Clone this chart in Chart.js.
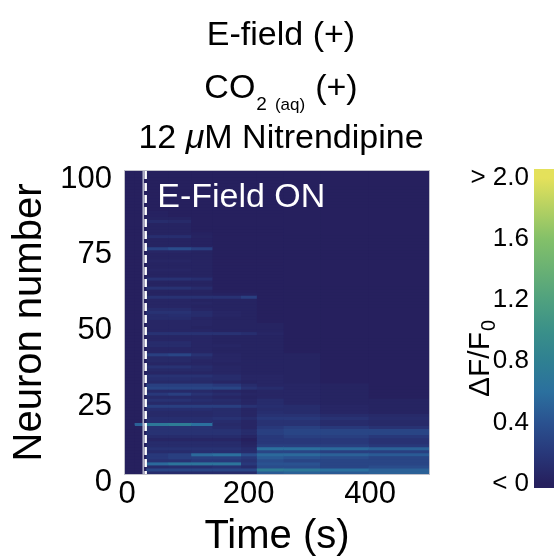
<!DOCTYPE html>
<html>
<head>
<meta charset="utf-8">
<title>E-field heatmap</title>
<script src="https://cdn.jsdelivr.net/npm/chart.js@4.4.0/dist/chart.umd.min.js"></script>
<style>
  html, body { margin: 0; padding: 0; background: #fff; }
  #wrap { position: relative; width: 554px; height: 559px; overflow: hidden; }
  #heatmap { position: absolute; left: 0; top: 0; }
  #colorbar { position: absolute; left: 440px; top: 0; }
</style>
</head>
<body>
<div id="wrap">
  <canvas id="heatmap" width="554" height="559"></canvas>
  <canvas id="colorbar" width="114" height="559"></canvas>
</div>
<script>
// time bin edges (s) and axis ticks
const timeEdges = [0, 15, 34, 70, 108, 143, 190, 216, 260, 320, 400, 500];
const fieldOnTime = 34;
const frameEdgeTime = 30;
const timeTicks = [0, 200, 400];
const neuronTicks = [0, 25, 50, 75, 100];
const neuronIds = Array.from({ length: 100 }, (_, i) => i + 1);

// colorbar
const cbRange = [-0.03, 2.06];
const cbTicks = [0, 0.4, 0.8, 1.2, 1.6, 2.0];
const cbLabels = ['< 0', '0.4', '0.8', '1.2', '1.6', '> 2.0'];

// dF/F0 per neuron (index 0 = neuron 1, bottom row), one array per time bin
const dff_0_15 = [
  0,0,0,0,0,0,0,0,0,0,
  0,0,0,0,0,0,0,0,0,0,
  0,0,0,0,0,0,0,0,0,0,
  0,0,0,0,0,0,0,0,0,0,
  0,0,0,0,0,0,0,0,0,0,
  0,0,0,0,0,0,0,0,0,0,
  0,0,0,0,0,0,0,0,0,0,
  0,0,0,0,0,0,0,0,0,0,
  0,0,0,0,0,0,0,0,0,0,
  0,0,0,0,0,0,0,0,0,0];
const dff_15_34 = [
  0,0,0,0,0,0,0,0,0,0,
  0,0,0,0,0,0,0.5,0,0,0,
  0,0,0,0,0,0,0,0,0,0,
  0,0,0,0,0,0,0,0,0,0,
  0,0,0,0,0,0,0,0,0,0,
  0,0,0,0,0,0,0,0,0,0,
  0,0,0,0,0,0,0,0,0,0,
  0,0,0,0,0,0,0,0,0,0,
  0,0,0,0,0,0,0,0,0,0,
  0,0,0,0,0,0,0,0,0,0];
const dff_34_70 = [
  0.1,0.3,0.1,0.55,0.15,0.2,0.2,0.1,0.15,0.1,
  0.1,0.05,0.1,0.15,0.15,0.15,0.7,0.12,0.12,0.08,
  0.08,0.12,0.25,0.08,0.15,0.08,0.2,0.08,0.3,0.25,
  0.08,0.12,0.15,0.05,0.08,0.15,0.05,0.08,0.08,0.25,
  0.05,0.05,0.1,0.1,0.05,0.05,0.15,0.05,0.05,0.05,
  0.05,0.1,0.1,0.15,0.1,0.05,0.05,0.05,0.15,0.03,
  0.03,0.15,0.03,0.03,0.15,0.03,0.03,0.05,0.03,0.03,
  0.05,0.03,0.03,0.05,0.28,0.03,0.03,0.03,0.12,0.03,
  0.03,0.03,0.03,0.1,0.03,0.02,0.02,0,0,0,
  0,0,0,0,0,0,0,0,0,0];
const dff_70_108 = [
  0.1,0.3,0.12,0.65,0.15,0.25,0.25,0.1,0.15,0.1,
  0.1,0.05,0.1,0.15,0.15,0.15,0.75,0.12,0.12,0.08,
  0.08,0.12,0.25,0.08,0.15,0.08,0.25,0.08,0.3,0.25,
  0.08,0.12,0.15,0.05,0.08,0.15,0.05,0.08,0.08,0.3,
  0.05,0.05,0.1,0.1,0.05,0.05,0.15,0.05,0.05,0.05,
  0.05,0.1,0.12,0.15,0.1,0.05,0.05,0.05,0.15,0.03,
  0.03,0.15,0.03,0.03,0.15,0.03,0.03,0.05,0.03,0.03,
  0.05,0.03,0.03,0.05,0.35,0.03,0.03,0.03,0.12,0.03,
  0.03,0.03,0.03,0.08,0.03,0,0,0,0,0,
  0,0,0,0,0,0,0,0,0,0];
const dff_108_143 = [
  0.1,0.3,0.12,0.65,0.2,0.25,0.55,0.12,0.15,0.1,
  0.1,0.05,0.1,0.15,0.15,0.15,0.6,0.12,0.12,0.08,
  0.08,0.12,0.25,0.08,0.12,0.08,0.15,0.08,0.3,0.25,
  0.08,0.1,0.15,0.05,0.08,0.1,0.05,0.05,0.08,0.15,
  0.05,0.05,0.05,0.05,0.05,0.05,0.15,0.05,0.03,0.05,
  0.05,0.05,0.1,0.1,0.05,0.03,0.05,0.03,0.15,0.03,
  0.03,0.1,0.03,0.03,0.12,0.03,0.03,0.03,0.03,0.03,
  0.03,0.03,0.03,0.03,0.25,0.02,0.02,0.02,0.03,0.02,
  0,0,0,0,0,0,0,0,0,0,
  0,0,0,0,0,0,0,0,0,0];
const dff_143_190 = [
  0.1,0.3,0.15,0.65,0.2,0.25,0.6,0.12,0.15,0.1,
  0.1,0.05,0.1,0.15,0.15,0.1,0.08,0.1,0.15,0.1,
  0.1,0.1,0.25,0.08,0.1,0.05,0.1,0.05,0.3,0.2,
  0.05,0.1,0.1,0.05,0.05,0.05,0.03,0.05,0.05,0.05,
  0.03,0.03,0.05,0.03,0.03,0.03,0.15,0.03,0.03,0.03,
  0.03,0.03,0.05,0.05,0.03,0.03,0.03,0.03,0.15,0.02,
  0,0,0,0,0,0,0,0,0,0,
  0,0,0,0,0,0,0,0,0,0,
  0,0,0,0,0,0,0,0,0,0,
  0,0,0,0,0,0,0,0,0,0];
const dff_190_216 = [
  0.1,0.3,0.1,0.2,0.15,0.2,0.35,0.1,0.1,0.05,
  0.03,0,0.05,0.1,0.1,0.05,0.05,0.05,0.1,0.05,
  0.05,0.05,0.15,0.05,0.05,0.03,0.05,0.03,0.15,0.1,
  0.03,0.05,0.05,0.03,0.03,0.03,0.03,0.03,0.03,0.03,
  0.03,0.03,0.03,0.03,0.03,0.03,0.12,0.03,0.03,0.03,
  0.03,0.03,0.03,0.03,0.03,0.03,0.03,0.03,0.25,0.02,
  0,0,0,0,0,0,0,0,0,0,
  0,0,0,0,0,0,0,0,0,0,
  0,0,0,0,0,0,0,0,0,0,
  0,0,0,0,0,0,0,0,0,0];
const dff_216_260 = [
  0.45,0.75,0.35,0.4,0.35,0.45,0.55,0.3,0.6,0.25,
  0.2,0.2,0.2,0.25,0.25,0.2,0.15,0.15,0.2,0.15,
  0.12,0.1,0.12,0.1,0.1,0.05,0.05,0.05,0.1,0.05,
  0.05,0.05,0.05,0.03,0.03,0.03,0.03,0.03,0.03,0.03,
  0.03,0.03,0.03,0.03,0.03,0.03,0.05,0.03,0.03,0.03,
  0,0,0,0,0,0,0,0,0,0,
  0,0,0,0,0,0,0,0,0,0,
  0,0,0,0,0,0,0,0,0,0,
  0,0,0,0,0,0,0,0,0,0,
  0,0,0,0,0,0,0,0,0,0];
const dff_260_320 = [
  0.5,0.7,0.35,0.4,0.3,0.4,0.55,0.3,0.6,0.25,
  0.2,0.2,0.25,0.3,0.3,0.25,0.15,0.15,0.2,0.15,
  0.1,0.1,0.1,0.05,0.05,0.05,0.05,0.05,0.05,0.05,
  0.03,0.03,0.03,0.03,0.03,0.03,0.03,0.03,0.03,0.03,
  0,0,0,0,0,0,0,0,0,0,
  0,0,0,0,0,0,0,0,0,0,
  0,0,0,0,0,0,0,0,0,0,
  0,0,0,0,0,0,0,0,0,0,
  0,0,0,0,0,0,0,0,0,0,
  0,0,0,0,0,0,0,0,0,0];
const dff_320_400 = [
  0.45,0.6,0.3,0.3,0.3,0.35,0.5,0.25,0.55,0.25,
  0.2,0.2,0.25,0.3,0.3,0.2,0.1,0.1,0.15,0.1,
  0.05,0.05,0.05,0.03,0.03,0.03,0.03,0.03,0.03,0.03,
  0,0,0,0,0,0,0,0,0,0,
  0,0,0,0,0,0,0,0,0,0,
  0,0,0,0,0,0,0,0,0,0,
  0,0,0,0,0,0,0,0,0,0,
  0,0,0,0,0,0,0,0,0,0,
  0,0,0,0,0,0,0,0,0,0,
  0,0,0,0,0,0,0,0,0,0];
const dff_400_500 = [
  0.5,0.5,0.35,0.3,0.3,0.3,0.45,0.25,0.5,0.2,
  0.15,0.15,0.2,0.3,0.3,0.15,0.08,0.08,0.1,0.08,
  0.03,0.03,0.03,0.03,0.03,0,0,0,0,0,
  0,0,0,0,0,0,0,0,0,0,
  0,0,0,0,0,0,0,0,0,0,
  0,0,0,0,0,0,0,0,0,0,
  0,0,0,0,0,0,0,0,0,0,
  0,0,0,0,0,0,0,0,0,0,
  0,0,0,0,0,0,0,0,0,0,
  0,0,0,0,0,0,0,0,0,0];

const binSeries = [dff_0_15, dff_15_34, dff_34_70, dff_70_108, dff_108_143, dff_143_190,
  dff_190_216, dff_216_260, dff_260_320, dff_320_400, dff_400_500];

// colormap stops (value, rgb)
const cmapStops = [
  [0.0, [38, 32, 94]],
  [0.2, [40, 56, 122]],
  [0.4, [42, 82, 144]],
  [0.6, [43, 112, 158]],
  [0.8, [47, 128, 146]],
  [1.0, [58, 144, 137]],
  [1.2, [79, 161, 127]],
  [1.6, [131, 192, 105]],
  [2.0, [228, 225, 91]]
];

function colorFor(v) {
  v = Math.max(0, Math.min(2, v || 0));
  for (let i = 1; i < cmapStops.length; i++) {
    const [v1, c1] = cmapStops[i];
    const [v0, c0] = cmapStops[i - 1];
    if (v <= v1) {
      const f = (v - v0) / (v1 - v0);
      const c = c0.map((a, k) => Math.round(a + (c1[k] - a) * f));
      return `rgb(${c[0]},${c[1]},${c[2]})`;
    }
  }
  return 'rgb(228,225,91)';
}

Chart.defaults.font.family = "'Liberation Sans', Arial, Helvetica, sans-serif";
Chart.defaults.color = '#000';

// title lines, second one with subscripts
const titleParts = [
  [{ t: 'E-field (+)' }],
  [{ t: 'CO' }, { t: '2', size: 19, dy: 12, gap: 1 }, { t: '(aq)', size: 17, dy: 12, gap: 8 }, { t: '(+)', gap: 10 }],
  [{ t: '12 ' }, { t: 'μ', italic: true }, { t: 'M Nitrendipine' }]
];
const titleBaselines = [45, 98, 148];

const titlePlugin = {
  id: 'titleLines',
  afterDraw(chart) {
    const ctx = chart.ctx;
    const fam = Chart.defaults.font.family;
    const font = p => `${p.italic ? 'italic ' : ''}${p.size || 34}px ${fam}`;
    ctx.save();
    ctx.fillStyle = '#000';
    ctx.textBaseline = 'alphabetic';
    ctx.textAlign = 'left';
    titleParts.forEach((parts, li) => {
      let total = 0;
      parts.forEach(p => { ctx.font = font(p); total += (p.gap || 0) + ctx.measureText(p.t).width; });
      let x = 281 - total / 2;
      parts.forEach(p => {
        ctx.font = font(p);
        x += p.gap || 0;
        ctx.fillText(p.t, x, titleBaselines[li] + (p.dy || 0));
        x += ctx.measureText(p.t).width;
      });
    });
    ctx.restore();
  }
};

const annotation = { text: 'E-Field ON', t: 53, n: 88 };

const overlayPlugin = {
  id: 'overlay',
  afterDatasetsDraw(chart) {
    const { ctx, chartArea: a, scales } = chart;
    ctx.save();
    ctx.strokeStyle = '#c0c0ca';
    ctx.lineWidth = 1;
    ctx.strokeRect(a.left - 0.5, a.top - 0.5, a.right - a.left + 1, a.bottom - a.top + 1);
    ctx.fillStyle = '#fff';
    ctx.font = `34px ${Chart.defaults.font.family}`;
    ctx.textBaseline = 'alphabetic';
    ctx.fillText(annotation.text, scales.x.getPixelForValue(annotation.t), scales.y.getPixelForValue(annotation.n));
    ctx.restore();
  }
};

const heatDatasets = binSeries.map((vals, b) => ({
  type: 'bar',
  data: vals.map((v, i) => ({ y: neuronIds[i] - 0.5, x: [timeEdges[b], timeEdges[b + 1]] })),
  backgroundColor: vals.map(colorFor),
  borderWidth: 0,
  grouped: false,
  barPercentage: 1,
  categoryPercentage: 1,
  inflateAmount: 0.5
}));

const lineDatasets = [
  {
    type: 'line',
    data: [{ x: frameEdgeTime, y: 100 }, { x: frameEdgeTime, y: 0 }],
    borderColor: 'rgba(185,185,205,0.8)',
    borderWidth: 1,
    pointRadius: 0,
    order: -1
  },
  {
    type: 'line',
    data: [{ x: fieldOnTime, y: 100 }, { x: fieldOnTime, y: 0 }],
    borderColor: '#fff',
    borderWidth: 2.5,
    borderDash: [8, 4],
    pointRadius: 0,
    order: -2
  }
];

new Chart(document.getElementById('heatmap'), {
  type: 'bar',
  data: { datasets: heatDatasets.concat(lineDatasets) },
  options: {
    indexAxis: 'y',
    responsive: false,
    animation: false,
    events: [],
    layout: { padding: { top: 171, right: 125, left: 0, bottom: 0 } },
    scales: {
      x: {
        type: 'linear', min: 0, max: 500, offset: false,
        afterBuildTicks: s => { s.ticks = timeTicks.map(v => ({ value: v })); },
        afterFit: s => { s.height = 85; },
        ticks: { font: { size: 31 }, color: '#000', padding: 2, labelOffset: 2, maxRotation: 0, autoSkip: false },
        grid: { display: false, drawTicks: false, offset: false },
        border: { display: false },
        title: { display: true, text: 'Time (s)', color: '#000', font: { size: 40, lineHeight: 1.1 }, padding: 0 }
      },
      y: {
        type: 'linear', min: 0, max: 100, offset: false,
        afterBuildTicks: s => { s.ticks = neuronTicks.map(v => ({ value: v })); },
        afterFit: s => { s.width = 125; },
        ticks: { font: { size: 31 }, color: '#000', padding: 13, labelOffset: 8 },
        grid: { display: false, drawTicks: false, offset: false },
        border: { display: false },
        title: { display: true, text: 'Neuron number', color: '#000', font: { size: 40 }, padding: { top: 6, bottom: 0 } }
      }
    },
    plugins: { legend: { display: false }, tooltip: { enabled: false } }
  },
  plugins: [titlePlugin, overlayPlugin]
});

// colorbar: one floating bar painted with the colormap gradient
const cbTitlePlugin = {
  id: 'cbTitle',
  afterDraw(chart) {
    const ctx = chart.ctx;
    const fam = Chart.defaults.font.family;
    ctx.save();
    ctx.translate(49, 397);
    ctx.rotate(-Math.PI / 2);
    ctx.fillStyle = '#000';
    ctx.textBaseline = 'alphabetic';
    ctx.font = `30px ${fam}`;
    ctx.fillText('ΔF/F', 0, 0);
    const w = ctx.measureText('ΔF/F').width;
    ctx.font = `20px ${fam}`;
    ctx.fillText('0', w + 1, 6);
    ctx.restore();
  }
};

new Chart(document.getElementById('colorbar'), {
  type: 'bar',
  data: {
    labels: [''],
    datasets: [{
      data: [[cbRange[0], cbRange[1]]],
      backgroundColor: ctx => {
        const chart = ctx.chart;
        if (!chart.chartArea) return colorFor(0);
        const ys = chart.scales.y;
        const g = chart.ctx.createLinearGradient(0, ys.getPixelForValue(0), 0, ys.getPixelForValue(2));
        cmapStops.forEach(([v, c]) => g.addColorStop(v / 2, `rgb(${c[0]},${c[1]},${c[2]})`));
        return g;
      },
      borderWidth: 0,
      barPercentage: 1,
      categoryPercentage: 1
    }]
  },
  options: {
    responsive: false,
    animation: false,
    events: [],
    layout: { padding: { top: 169, bottom: 71, left: 0, right: 0 } },
    scales: {
      x: { display: false },
      y: {
        min: cbRange[0], max: cbRange[1],
        afterBuildTicks: s => { s.ticks = cbTicks.map(v => ({ value: v })); },
        afterFit: s => { s.width = 94; },
        ticks: { font: { size: 26 }, color: '#000', padding: 5, callback: (v, i) => cbLabels[i] },
        grid: { display: false, drawTicks: false },
        border: { display: false }
      }
    },
    plugins: { legend: { display: false }, tooltip: { enabled: false } }
  },
  plugins: [cbTitlePlugin]
});
</script>
</body>
</html>
